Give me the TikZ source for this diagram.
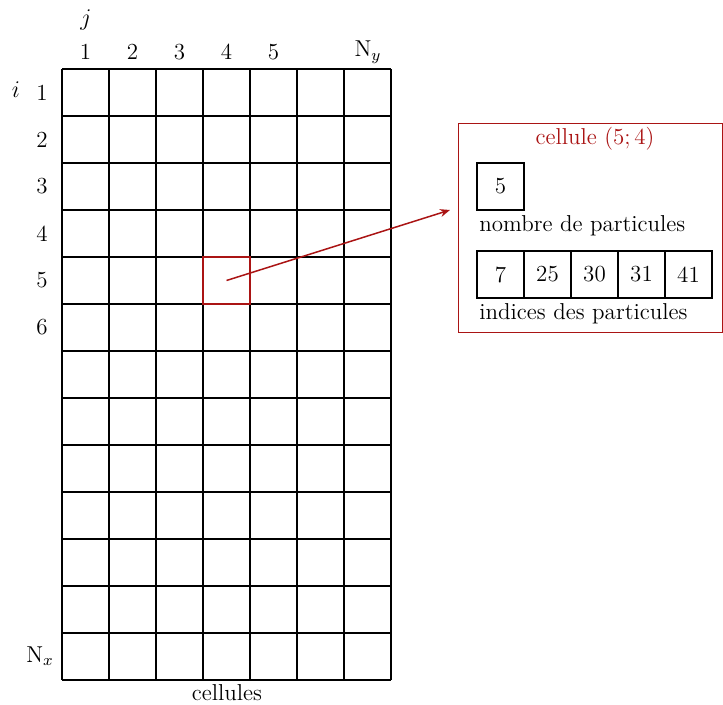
\documentclass[tikz,border=0pt]{standalone}
\usepackage{tikz}
\usetikzlibrary{arrows.meta, positioning}
\definecolor{cellred}{RGB}{170,20,20}

\begin{document}
\begin{tikzpicture}[x=0.5pt, y=-0.5pt,
  every node/.style = {font=\fontsize{11.5}{13}\selectfont},
  gridline/.style   = {line width=0.75pt, black},
  idxbox/.style     = {draw, line width=0.75pt, minimum size=23.5pt,
                       inner sep=0pt, outer sep=0pt, anchor=north west},
  lbl/.style        = {anchor=north west, inner sep=1pt, yshift=-1.5pt},
  arr/.style        = {-{Stealth[length=5pt,width=4pt]}, cellred, line width=0.75pt}
]
\useasboundingbox (0,0) rectangle (723,705);

% grid of cells
\foreach \c in {0,...,7}
  \draw[gridline] (62+47*\c,69) -- (62+47*\c,680);
\foreach \r in {0,...,13}
  \draw[gridline] (62,69+47*\r) -- (391,69+47*\r);

% indices
\node (jlbl) at (86,20) {$j$};
\foreach \c in {1,...,5}
  \node (col\c) at (38.5+47*\c,52) {\c};
\node (colN) at (368,52) {N$_y$};
\node (ilbl) at (16,90) {$i$};
\foreach \r in {1,...,6}
  \node (row\r) at (42,45.5+47*\r) {\r};
\node (rowN) at (40,656) {N$_x$};
\node (grid) at (227,693) {cellules};

% selected cell
\node[draw=cellred, line width=0.75pt, minimum size=23.5pt, inner sep=0pt] (sel) at (226.5,280.5) {};

% cell contents
\node[draw=cellred, line width=0.5pt, minimum width=132pt, minimum height=104.5pt] (info) at (590,228.5) {};
\node[text=cellred] (title) at (595,139) {cellule (5;\,4)};
\node[idxbox] (nb) at (477,163) {5};
\node[lbl] (nblbl) at (nb.south west) {nombre de particules};
\node[idxbox] (p1) at (477,251) {7};
\node[idxbox, right=0pt of p1] (p2) {25};
\node[idxbox, right=0pt of p2] (p3) {30};
\node[idxbox, right=0pt of p3] (p4) {31};
\node[idxbox, right=0pt of p4] (p5) {41};
\node[lbl] (plbl) at (p1.south west) {indices des particules};

\coordinate (tip) at (450,210);
\draw[arr] (sel.center) -- (tip);
\end{tikzpicture}
\end{document}
